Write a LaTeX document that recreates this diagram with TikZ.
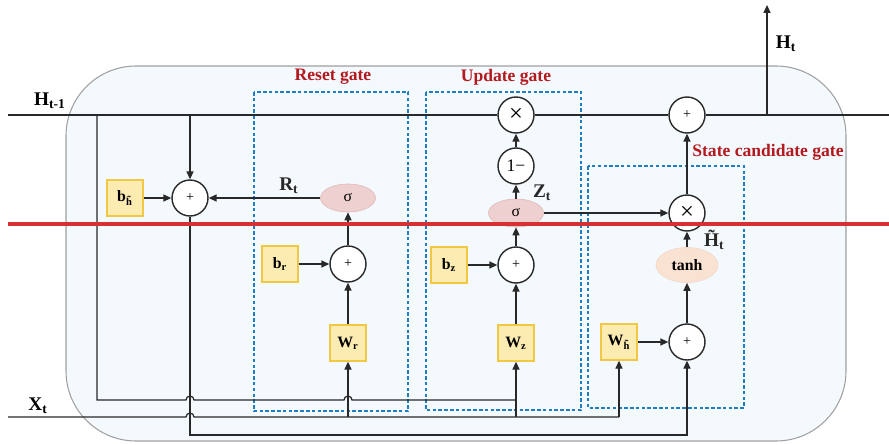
\documentclass[tikz,border=0pt]{standalone}
\usepackage{fontspec}
\setmainfont{Liberation Serif}
\usepackage{tikz}
\usetikzlibrary{shapes.geometric, arrows.meta, positioning, calc}
\definecolor{mydark}{RGB}{40,40,40}
\definecolor{gatered}{RGB}{180,25,30}
\definecolor{gateblue}{RGB}{30,125,195}
\definecolor{cellfill}{RGB}{243,249,253}
\definecolor{cellline}{RGB}{160,160,160}
\definecolor{wfill}{RGB}{253,236,178}
\definecolor{wline}{RGB}{240,200,70}
\definecolor{sigfill}{RGB}{238,208,208}
\definecolor{sigline}{RGB}{226,188,188}
\definecolor{tanhfill}{RGB}{250,226,210}
\definecolor{markred}{RGB}{214,48,50}
\tikzset{
  wbox/.style={rectangle, draw=wline, fill=wfill, minimum size=0.72cm,
    inner sep=0pt, font=\fontsize{9}{10}\selectfont\bfseries, line width=0.8pt},
  opnode/.style={circle, draw=mydark, fill=white, minimum size=0.72cm,
    inner sep=0pt, font=\fontsize{10}{11}\selectfont, line width=0.8pt},
  addnode/.style={opnode, font=\fontsize{8}{9}\selectfont},
  mulnode/.style={opnode, font=\fontsize{14}{15}\selectfont},
  signode/.style={ellipse, draw=sigline, fill=sigfill, minimum width=1.1cm,
    minimum height=0.56cm, inner sep=0pt, font=\fontsize{9}{10}\selectfont},
  tanhnode/.style={ellipse, draw=tanhfill!85!black!20!tanhfill, fill=tanhfill,
    minimum width=1.24cm, minimum height=0.7cm, inner sep=0pt,
    font=\fontsize{9}{10}\selectfont\bfseries},
  gatebox/.style={draw=gateblue, line width=1.2pt, dash pattern=on 2pt off 1.3pt},
  gatelabel/.style={font=\fontsize{10}{11}\selectfont\bfseries, text=gatered},
  varlabel/.style={font=\fontsize{11}{12}\selectfont\bfseries},
  arrow/.style={-{Triangle[length=4.5pt,width=4pt]}, line width=0.7pt, color=mydark},
  line/.style={line width=0.7pt, color=mydark}
}

\begin{document}
\begin{tikzpicture}[x=0.02cm, y=-0.02cm]
  \useasboundingbox (0,0) rectangle (889,444);
  \draw[fill=cellfill, draw=cellline, line width=0.6pt, rounded corners=1.4cm]
    (66,66) rectangle (846,441);

  % gate frames
  \draw[gatebox] (254,92) rectangle (408,411);
  \draw[gatebox] (426,92) rectangle (581,410);
  \draw[gatebox] (588,166) rectangle (744,408);
  \node[gatelabel] (lreset) at (333,77) {Reset gate};
  \node[gatelabel] (lupdate) at (506,77) {Update gate};
  \node[gatelabel] (lstate) at (768,152) {State candidate gate};

  % reset gate
  \node[wbox] (bh) at (125,198) {b\textsubscript{h̃}};
  \node[addnode] (addh) at (190,198) {+};
  \node[signode] (sigr) at (348,198) {σ};
  \node[addnode] (addr) at (348,264) {+};
  \node[wbox] (br) at (280,264) {b\textsubscript{r}};
  \node[wbox] (wr) at (348,343) {W\textsubscript{r}};

  % update gate
  \node[mulnode] (mulz) at (516,115) {×};
  \node[opnode] (onem) at (516,166) {1−};
  \node[signode] (sigz) at (516,213) {σ};
  \node[addnode] (addz) at (516,265) {+};
  \node[wbox] (bz) at (449,265) {b\textsubscript{z}};
  \node[wbox] (wz) at (516,343) {W\textsubscript{z}};

  % state candidate gate
  \node[addnode] (addo) at (687,115) {+};
  \node[mulnode] (mulh) at (687,213) {×};
  \node[tanhnode] (tanh) at (687,265) {tanh};
  \node[addnode] (addc) at (687,342) {+};
  \node[wbox] (wh) at (619,342) {W\textsubscript{h̃}};

  \coordinate (hin) at (8,115);
  \coordinate (hout) at (889,115);
  \coordinate (xin) at (8,417);
  \coordinate (ja) at (97,115);
  \coordinate (jb) at (190,115);
  \coordinate (jz) at (516,400);
  \coordinate (xr) at (348,417);
  \coordinate (xz) at (516,417);
  \coordinate (xh) at (619,417);
  \coordinate (lowc) at (687,435);
  \coordinate (hup) at (767,115);
  \coordinate (htop) at (767,5);

  \node[varlabel] (lhprev) at (50,101) {H\textsubscript{t-1}};
  \node[varlabel] (lx) at (38,406) {X\textsubscript{t}};
  \node[varlabel] (lh) at (786,44) {H\textsubscript{t}};

  % hidden state line
  \draw[line] (hin) -- (mulz);
  \draw[line] (mulz) -- (addo);
  \draw[line] (addo) -- (hout);
  \draw[arrow] (hup) -- (htop);
  \draw[arrow] (jb) -- (addh);
  \draw[arrow] (bh) -- (addh);
  \draw[arrow] (sigr) -- node[varlabel, above=-1pt, pos=0.28] {R\textsubscript{t}} (addh);
  \draw[line] (ja) |- (186,400) arc[start angle=180, end angle=0, radius=0.08cm]
    -- (344,400) arc[start angle=180, end angle=0, radius=0.08cm] -- (jz);

  % input line
  \draw[line] (xin) -- (186,417) arc[start angle=180, end angle=0, radius=0.08cm] -- (xh);
  \draw[arrow] (xr) -- (wr);
  \draw[arrow] (xz) -- (wz);
  \draw[arrow] (xh) -- (wh);
  \draw[arrow] (addh) |- (lowc) -- (addc);

  \draw[arrow] (wr) -- (addr);
  \draw[arrow] (br) -- (addr);
  \draw[arrow] (addr) -- (sigr);

  \draw[arrow] (wz) -- (addz);
  \draw[arrow] (bz) -- (addz);
  \draw[arrow] (addz) -- (sigz);
  \draw[arrow] (sigz) -- node[varlabel, right=6pt, pos=0.4] {Z\textsubscript{t}} (onem);
  \draw[arrow] (onem) -- (mulz);
  \draw[arrow] (sigz) -- (mulh);

  \draw[arrow] (wh) -- (addc);
  \draw[arrow] (addc) -- (tanh);
  \draw[arrow] (tanh) -- node[varlabel, right=6pt, pos=0.45] {H̃\textsubscript{t}} (mulh);
  \draw[arrow] (mulh) -- (addo);

  \draw[markred, line width=2.6pt] (8,224) -- (889,224);
\end{tikzpicture}
\end{document}
